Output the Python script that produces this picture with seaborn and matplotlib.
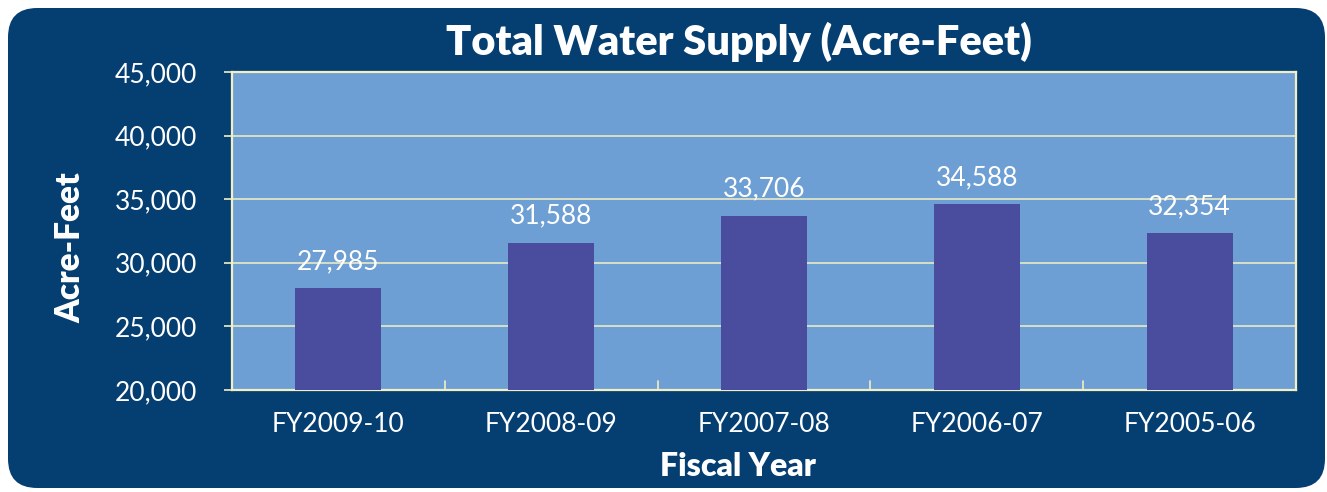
import matplotlib
matplotlib.use("Agg")
import matplotlib.pyplot as plt
import seaborn as sns
import pandas as pd
from matplotlib.patches import FancyBboxPatch
from matplotlib.ticker import FuncFormatter, MultipleLocator

years = ["FY2009-10", "FY2008-09", "FY2007-08", "FY2006-07", "FY2005-06"]
supply = [27985, 31588, 33706, 34588, 32354]

df = pd.DataFrame({"year": years, "supply": supply})

sns.set_theme(style="white")
plt.rcParams["font.family"] = ["Lato", "DejaVu Sans"]

BG = "#053f72"
FACE = "#6e9fd4"
BAR = "#4a4c9d"
LINE = "#f3efc4"

fig = plt.figure(figsize=(13.27, 4.92), dpi=100)
fig.patch.set_facecolor("white")
box = FancyBboxPatch((8/1327, 4/492), (1317/1327), (480/492),
                     boxstyle="round,pad=0,rounding_size=0.022",
                     transform=fig.transFigure, facecolor=BG, edgecolor="none",
                     mutation_aspect=1327/492, zorder=-10)
fig.add_artist(box)

ax = fig.add_axes([232/1327, 1-390/492, (1296-232)/1327, (390-72)/492])
ax.set_zorder(5)
ax.set_facecolor(FACE)
sns.barplot(data=df, x="year", y="supply", color=BAR, width=0.405, ax=ax,
            saturation=1, edgecolor="none", zorder=3)
ax.set_ylim(20000, 45000)
ax.set_xlim(-0.5, 4.5)
ax.yaxis.set_major_locator(MultipleLocator(5000))
ax.yaxis.set_major_formatter(FuncFormatter(lambda v, p: f"{int(v):,}"))
ax.grid(axis="y", color=LINE, linewidth=1.1, zorder=1)
ax.set_axisbelow(True)
for s in ax.spines.values():
    s.set_color(LINE)
    s.set_linewidth(1.6)

for i, v in enumerate(supply):
    ax.text(i, v + 1100, f"{v:,}", ha="center", va="bottom", color="white",
            fontsize=19, zorder=5)

ax.tick_params(axis="y", colors="white", labelsize=19, length=6, width=1.2,
               direction="out", left=True, color=LINE, pad=19)
ax.tick_params(axis="x", colors="white", labelsize=19, length=0, pad=16)
for t in ax.get_yticklabels() + ax.get_xticklabels():
    t.set_color("white")
# inner boundary ticks
for b in [0.5, 1.5, 2.5, 3.5]:
    ax.plot([b, b], [20000, 20700], color=LINE, linewidth=1.2, zorder=4,
            clip_on=False)

ax.set_xlabel("Fiscal Year", color="white", fontsize=23, fontweight="heavy")
ax.xaxis.set_label_coords((738-232)/(1296-232), -(467-390)/(390-72))
ax.xaxis.label.set_va("center")
ax.set_ylabel("Acre-Feet", color="white", fontsize=24, fontweight="heavy")
ax.yaxis.set_label_coords(-(232-70)/(1296-232), (390-248)/(390-72))
ax.yaxis.label.set_va("center")
fig.text(0.557, 1-42/492, "Total Water Supply (Acre-Feet)", color="white",
         fontsize=30, fontweight="heavy", ha="center", va="center")

fig.savefig("out.png", dpi=100, facecolor="white")
